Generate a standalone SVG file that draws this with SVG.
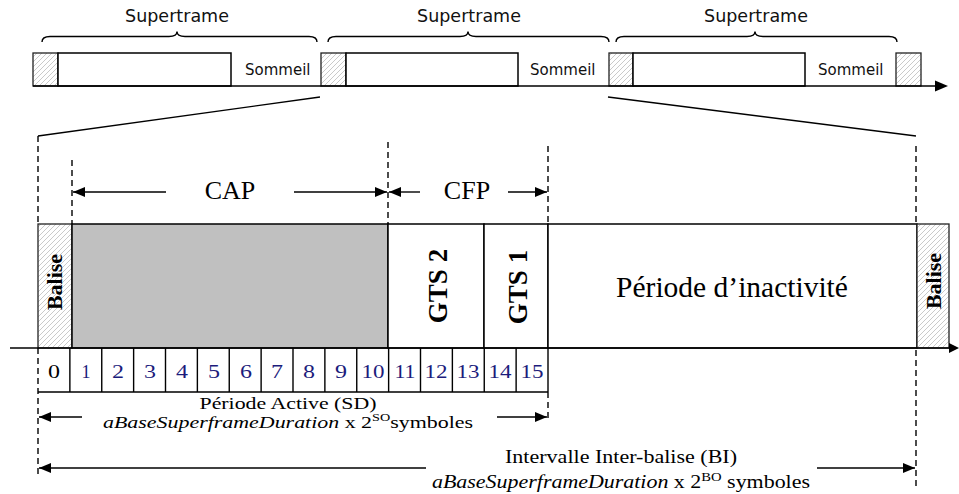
<svg xmlns="http://www.w3.org/2000/svg" width="959" height="494" viewBox="0 0 959 494">
<defs>
<pattern id="hatch" patternUnits="userSpaceOnUse" width="5" height="5">
<rect width="5" height="5" fill="#fff"/>
<path d="M-1,6 L6,-1 M-1,1 L1,-1 M4,6 L6,4" stroke="#c4c4c4" stroke-width="0.9"/>
</pattern>
<marker id="ah" viewBox="0 0 12 10" refX="12" refY="5" markerWidth="12" markerHeight="10" markerUnits="userSpaceOnUse" orient="auto">
<path d="M0,0 L12,5 L0,10 z" fill="#000"/>
</marker>
</defs>
<style>
.sans{font-family:"DejaVu Sans","Verdana",sans-serif;fill:#111}
.serif{font-family:"Liberation Serif","Times New Roman",serif;fill:#000}
.b{font-weight:bold}
.box{stroke:#000;stroke-width:1.5;fill:#fff}
.hb{stroke:#222;stroke-width:1.3;fill:url(#hatch)}
.ln{stroke:#000;stroke-width:1.4;fill:none}
.dash{stroke:#000;stroke-width:1.4;fill:none;stroke-dasharray:6,4}
.arr{stroke:#000;stroke-width:1.4;fill:none;marker-end:url(#ah)}
.num{font-family:"Liberation Serif","Times New Roman",serif;font-size:18px;fill:#1c1c7c;text-anchor:middle}
</style>
<rect width="959" height="494" fill="#fff"/>

<!-- top superframes -->
<g id="superframe1">
<path class="ln" d="M42,42 Q42,36.5 50,36.5 L169,36.5 Q177,36.5 177,31.5 Q177,36.5 185,36.5 L309,36.5 Q317,36.5 317,42"/>
<text class="sans" x="177" y="22" font-size="17.5" text-anchor="middle">Supertrame</text>
<rect class="hb" x="33" y="53" width="25" height="33"/>
<rect class="box" x="58" y="53" width="173" height="33"/>
<text class="sans" x="245" y="75" font-size="15">Sommeil</text>
</g>
<g id="superframe2">
<path class="ln" d="M328,42 Q328,36.5 336,36.5 L460,36.5 Q468,36.5 468,31.5 Q468,36.5 476,36.5 L601,36.5 Q609,36.5 609,42"/>
<text class="sans" x="469" y="22" font-size="17.5" text-anchor="middle">Supertrame</text>
<rect class="hb" x="321" y="53" width="25" height="33"/>
<rect class="box" x="346" y="53" width="172" height="33"/>
<text class="sans" x="530" y="75" font-size="15">Sommeil</text>
</g>
<g id="superframe3">
<path class="ln" d="M616,42 Q616,36.5 624,36.5 L747,36.5 Q755,36.5 755,31.5 Q755,36.5 763,36.5 L889,36.5 Q897,36.5 897,42"/>
<text class="sans" x="756" y="22" font-size="17.5" text-anchor="middle">Supertrame</text>
<rect class="hb" x="609" y="53" width="24" height="33"/>
<rect class="box" x="633" y="53" width="172" height="33"/>
<text class="sans" x="818" y="75" font-size="15">Sommeil</text>
<rect class="hb" x="896" y="53" width="25" height="33"/>
</g>

<!-- main superframe -->
<g id="balise-left">
<rect class="hb" x="38" y="224" width="34" height="124"/>
<text class="serif b" transform="translate(62,282) rotate(-90)" font-size="22" text-anchor="middle">Balise</text>
</g>
<g id="cap-area">
<rect x="72" y="224" width="316" height="124" fill="#c0c0c0" stroke="#000" stroke-width="1.5"/>
</g>
<g id="gts2">
<rect class="box" x="388" y="224" width="96" height="124"/>
<text class="serif b" transform="translate(447,286) rotate(-90)" font-size="27" text-anchor="middle">GTS 2</text>
</g>
<g id="gts1">
<rect class="box" x="484" y="224" width="64" height="124"/>
<text class="serif b" transform="translate(527,287) rotate(-90)" font-size="27" text-anchor="middle">GTS 1</text>
</g>
<g id="inactive">
<rect class="box" x="548" y="224" width="369" height="124"/>
<text class="serif" x="732" y="297" font-size="29.5" text-anchor="middle">Période d’inactivité</text>
</g>
<g id="balise-right">
<rect class="hb" x="917" y="224" width="32" height="124"/>
<text class="serif b" transform="translate(941,281) rotate(-90)" font-size="22" text-anchor="middle">Balise</text>
</g>

<!-- slot numbers -->
<g id="slots">
<path class="ln" d="M38,392 L548,392 M548,348 L548,392 M69.875,348 V392 M101.75,348 V392 M133.625,348 V392 M165.5,348 V392 M197.375,348 V392 M229.25,348 V392 M261.125,348 V392 M293,348 V392 M324.875,348 V392 M356.75,348 V392 M388.625,348 V392 M420.5,348 V392 M452.375,348 V392 M484.25,348 V392 M516.125,348 V392"/>
<text class="num" x="54" y="378" style="fill:#000" textLength="12" lengthAdjust="spacingAndGlyphs">0</text>
<text class="num" x="86" y="378" textLength="9" lengthAdjust="spacingAndGlyphs">1</text>
<text class="num" x="118" y="378" textLength="12" lengthAdjust="spacingAndGlyphs">2</text>
<text class="num" x="150" y="378" textLength="12" lengthAdjust="spacingAndGlyphs">3</text>
<text class="num" x="182" y="378" textLength="12" lengthAdjust="spacingAndGlyphs">4</text>
<text class="num" x="214" y="378" textLength="12" lengthAdjust="spacingAndGlyphs">5</text>
<text class="num" x="246" y="378" textLength="12" lengthAdjust="spacingAndGlyphs">6</text>
<text class="num" x="277" y="378" textLength="12" lengthAdjust="spacingAndGlyphs">7</text>
<text class="num" x="309" y="378" textLength="12" lengthAdjust="spacingAndGlyphs">8</text>
<text class="num" x="341" y="378" textLength="12" lengthAdjust="spacingAndGlyphs">9</text>
<text class="num" x="373" y="378" textLength="23" lengthAdjust="spacingAndGlyphs">10</text>
<text class="num" x="405" y="378" textLength="21" lengthAdjust="spacingAndGlyphs">11</text>
<text class="num" x="436" y="378" textLength="23" lengthAdjust="spacingAndGlyphs">12</text>
<text class="num" x="468" y="378" textLength="23" lengthAdjust="spacingAndGlyphs">13</text>
<text class="num" x="500" y="378" textLength="23" lengthAdjust="spacingAndGlyphs">14</text>
<text class="num" x="532" y="378" textLength="23" lengthAdjust="spacingAndGlyphs">15</text>
</g>

<!-- labels -->
<g id="label-cap"><text class="serif" x="230" y="199" font-size="26" text-anchor="middle">CAP</text></g>
<g id="label-cfp"><text class="serif" x="467" y="199" font-size="26" text-anchor="middle">CFP</text></g>
<g id="label-sd">
<text class="serif" x="288" y="409" font-size="17" text-anchor="middle" textLength="177" lengthAdjust="spacingAndGlyphs">Période Active (SD)</text>
<text class="serif" x="103" y="428" font-size="17" textLength="370" lengthAdjust="spacingAndGlyphs"><tspan font-style="italic">aBaseSuperframeDuration</tspan> x 2<tspan font-size="11" dy="-7">SO</tspan><tspan dy="7">symboles</tspan></text>
</g>
<g id="label-bi">
<text class="serif" x="621" y="463" font-size="18" text-anchor="middle" textLength="232" lengthAdjust="spacingAndGlyphs">Intervalle Inter-balise (BI)</text>
<text class="serif" x="432" y="488" font-size="18" textLength="378" lengthAdjust="spacingAndGlyphs"><tspan font-style="italic">aBaseSuperframeDuration</tspan> x 2<tspan font-size="12" dy="-7">BO</tspan><tspan dy="7"> symboles</tspan></text>
</g>

<!-- connectors -->
<g id="connectors">
<line class="ln" x1="33" y1="86" x2="936" y2="86"/>
<path d="M935,80.5 L948,86 L935,91.5 z" fill="#000"/>
<line class="ln" x1="10" y1="348" x2="950" y2="348"/>
<path d="M949,343 L959,348 L949,353 z" fill="#000"/>
<line class="ln" x1="38" y1="136" x2="320" y2="97"/>
<line class="ln" x1="608" y1="97" x2="916" y2="136"/>
<line class="dash" x1="38" y1="136" x2="38" y2="224"/>
<line class="dash" x1="72" y1="160" x2="72" y2="224"/>
<line class="dash" x1="388" y1="142" x2="388" y2="224"/>
<line class="dash" x1="548" y1="146" x2="548" y2="224"/>
<line class="dash" x1="916" y1="146" x2="916" y2="224"/>
<line class="dash" x1="38" y1="348" x2="38" y2="474"/>
<line class="dash" x1="548" y1="392" x2="548" y2="418"/>
<line class="dash" x1="916" y1="350" x2="916" y2="487"/>
<line class="arr" x1="166" y1="192" x2="73" y2="192"/>
<line class="arr" x1="294" y1="192" x2="387" y2="192"/>
<line class="arr" x1="420" y1="192" x2="389" y2="192"/>
<line class="arr" x1="508" y1="192" x2="547" y2="192"/>
<line class="arr" x1="82" y1="417" x2="39" y2="417"/>
<line class="arr" x1="497" y1="417" x2="547" y2="417"/>
<line class="arr" x1="426" y1="468" x2="39" y2="468"/>
<line class="arr" x1="817" y1="468" x2="915" y2="468"/>
</g>
</svg>
